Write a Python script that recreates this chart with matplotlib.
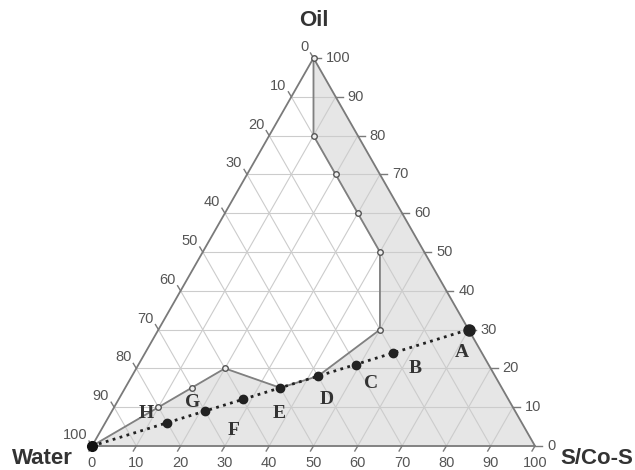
import numpy as np
import matplotlib
matplotlib.use("Agg")
import matplotlib.pyplot as plt

plt.rcParams["font.family"] = ["Liberation Sans", "DejaVu Sans"]

# -----------------------------
# DATA (percent: S/Co-S, Oil; water = 100 - both)
# -----------------------------
boundary_s = [0, 10, 15, 20, 35, 42, 50, 40, 30, 20, 10, 0]
boundary_o = [0, 10, 15, 20, 15, 18, 30, 50, 60, 70, 80, 100]

open_s = [10, 15, 20, 50, 40, 30, 20, 10, 0]
open_o = [10, 15, 20, 30, 50, 60, 70, 80, 100]

dil_s = [14, 21, 28, 35, 42, 49, 56, 70]
dil_o = [6, 9, 12, 15, 18, 21, 24, 30]

point_labels = ["A", "B", "C", "D", "E", "F", "G", "H"]
label_s = [71.5, 63, 55, 47, 38, 30, 17, 8]
label_o = [24, 20, 16, 12, 8.5, 4, 11.3, 8.5]

ticks = [0, 10, 20, 30, 40, 50, 60, 70, 80, 90, 100]

H = np.sqrt(3) / 2


def cart(s, o):
    s = np.asarray(s, dtype=float) / 100
    o = np.asarray(o, dtype=float) / 100
    return s + o / 2, o * H


fig = plt.figure(figsize=(6.35, 4.7), dpi=100)
ax = fig.add_axes([0, 0, 1, 1])
ax.set_xlim(-92 / 443, 543 / 443)
ax.set_ylim(-24 / 448, 446 / 448)
ax.axis("off")

px = 1 / 443
py = 1 / 448

# shaded region
bx, by = cart(boundary_s, boundary_o)
sx, sy = cart(100, 0)
ax.fill(np.append(bx, sx), np.append(by, sy), color="#e6e6e6", zorder=1)

# grid
grid_c = "#cccccc"
for v in ticks[1:-1]:
    x, y = cart([0, 100 - v], [v, v])          # constant oil
    ax.plot(x, y, color=grid_c, lw=0.8, zorder=2)
    x, y = cart([v, v], [0, 100 - v])          # constant S
    ax.plot(x, y, color=grid_c, lw=0.8, zorder=2)
    x, y = cart([100 - v, 0], [0, 100 - v])    # constant water
    ax.plot(x, y, color=grid_c, lw=0.8, zorder=2)

# triangle
tx, ty = cart([0, 100, 0, 0], [0, 0, 100, 0])
ax.plot(tx, ty, color="#7a7a7a", lw=1.3, zorder=3)

# ticks and labels
lab_c = "#555555"
for v in ticks:
    # bottom (S/Co-S)
    x, y = cart(v, 0)
    ax.plot([x, x - 3 * px], [y, y - 5 * py], color="#7a7a7a", lw=1, zorder=3)
    ax.text(x, y - 17 * py, str(v), ha="center", va="center", fontsize=10.5, color=lab_c)
    # right (Oil)
    x, y = cart(100 - v, v)
    ax.plot([x, x + 7 * px], [y, y], color="#7a7a7a", lw=1, zorder=3)
    ax.text(x + 12 * px, y, str(v), ha="left", va="center", fontsize=10.5, color=lab_c)
    # left (Water)
    x, y = cart(0, 100 - v)
    ax.plot([x, x - 3 * px], [y, y + 5 * py], color="#7a7a7a", lw=1, zorder=3)
    ax.text(x - 5 * px, y + 11 * py, str(v), ha="right", va="center", fontsize=10.5, color=lab_c)

# phase boundary
ax.plot(bx, by, color="#808080", lw=1.3, zorder=4)

# dilution line
dx, dy = cart([0] + dil_s, [0] + dil_o)
ax.plot(dx, dy, color="#222222", lw=2, ls=(0, (1, 1.6)), zorder=5)
ax.plot(dx[1:-1], dy[1:-1], "o", color="#222222", ms=6, zorder=6)
ax.plot(dx[-1], dy[-1], "o", color="#222222", ms=8, zorder=6)
ax.plot(dx[0], dy[0], "o", color="#111111", ms=7, zorder=6)

ox, oy = cart(open_s, open_o)
ax.plot(ox, oy, "o", mfc="#eeeeee", mec="#555555", ms=4, mew=1, zorder=6)

# region letters
lx, ly = cart(label_s, label_o)
for t, x, y in zip(point_labels, lx, ly):
    ax.text(x, y, t, ha="center", va="center", fontsize=14, fontweight="bold",
            family="Liberation Serif", color="#333333", zorder=7)

# vertex names
x, y = cart(0, 100)
ax.text(x, y + 38 * py, "Oil", ha="center", va="center", fontsize=16, fontweight="bold", color="#333333")
x, y = cart(0, 0)
ax.text(x - 50 * px, y - 13 * py, "Water", ha="center", va="center", fontsize=16, fontweight="bold", color="#333333")
x, y = cart(100, 0)
ax.text(x + 62 * px, y - 13 * py, "S/Co-S", ha="center", va="center", fontsize=16, fontweight="bold", color="#333333")

plt.savefig("out.png", dpi=100)
